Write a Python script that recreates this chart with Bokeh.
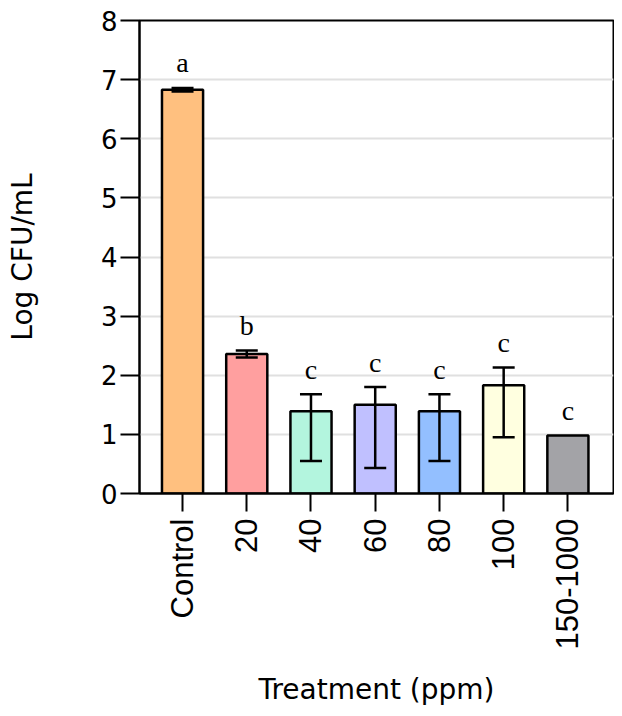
import math
from bokeh.plotting import figure
from bokeh.models import ColumnDataSource, Whisker, TeeHead, FixedTicker, Range1d
from bokeh.embed import file_html
from bokeh.resources import INLINE
from bokeh.core.properties import value

categories = ["Control", "20", "40", "60", "80", "100", "150-1000"]
means = [6.83, 2.36, 1.39, 1.50, 1.39, 1.83, 0.98]
err_upper = [6.86, 2.42, 1.68, 1.80, 1.68, 2.13, None]
err_lower = [6.80, 2.30, 0.55, 0.43, 0.55, 0.95, None]
letters = ["a", "b", "c", "c", "c", "c", "c"]
colors = ["#FFC07F", "#FF9F9F", "#B3F5DE", "#C0C0FF", "#93BFFF", "#FFFFE0", "#A3A3A7"]
y_ticks = [0, 1, 2, 3, 4, 5, 6, 7, 8]

xs = list(range(len(categories)))
src = ColumnDataSource(dict(x=xs, top=means, color=colors))

ex = [x for x, u in zip(xs, err_upper) if u is not None]
eu = [u for u in err_upper if u is not None]
el = [l for l in err_lower if l is not None]
esrc = ColumnDataSource(dict(x=ex, upper=eu, lower=el))

ly = [u if u is not None else m for u, m in zip(err_upper, means)]
lsrc = ColumnDataSource(dict(x=xs, y=ly, t=letters))

p = figure(width=614, height=708, output_backend="svg", toolbar_location=None,
           x_range=Range1d(-0.67, 6.71), y_range=Range1d(0, 8),
           min_border_left=139, min_border_top=20, min_border_right=1, min_border_bottom=213)

p.vbar(x="x", top="top", width=0.64, bottom=0, source=src, fill_color="color",
       line_color="black", line_width=2.5)

w = Whisker(base="x", upper="upper", lower="lower", source=esrc,
            line_color="black", line_width=2.5, level="overlay",
            upper_head=TeeHead(size=22, line_color="black", line_width=2.5),
            lower_head=TeeHead(size=22, line_color="black", line_width=2.5))
p.add_layout(w)

p.text(x="x", y="y", text="t", source=lsrc, text_align="center",
       text_baseline="alphabetic", y_offset=-25, text_font=value("Liberation Serif"),
       text_font_size="28px", text_color="black")

p.outline_line_color = "black"
p.outline_line_width = 2
p.background_fill_color = "white"
p.border_fill_color = "white"

p.xgrid.visible = False
p.ygrid.grid_line_color = "#E0E0E0"
p.ygrid.grid_line_width = 2
p.ygrid.ticker = FixedTicker(ticks=y_ticks)

p.yaxis.ticker = FixedTicker(ticks=y_ticks)
p.yaxis.axis_line_width = 2
p.yaxis.major_tick_line_width = 2
p.yaxis.major_tick_out = 19
p.yaxis.major_tick_in = 0
p.yaxis.minor_tick_line_color = None
p.yaxis.major_label_text_font = "DejaVu Sans"
p.yaxis.major_label_text_font_size = "26px"
p.yaxis.major_label_text_color = "black"
p.yaxis.major_label_standoff = 3
p.yaxis.axis_label = "Log CFU/mL"
p.yaxis.axis_label_text_font = "DejaVu Sans"
p.yaxis.axis_label_text_font_size = "28px"
p.yaxis.axis_label_text_font_style = "normal"
p.yaxis.axis_label_text_color = "black"
p.yaxis.axis_label_standoff = 59

p.xaxis.ticker = FixedTicker(ticks=xs)
p.xaxis.major_label_overrides = {i: c for i, c in zip(xs, categories)}
p.xaxis.axis_line_width = 2
p.xaxis.major_tick_line_width = 2
p.xaxis.major_tick_out = 18
p.xaxis.major_tick_in = 0
p.xaxis.minor_tick_line_color = None
p.xaxis.major_label_orientation = math.pi / 2
p.xaxis.major_label_text_font = "Liberation Sans"
p.xaxis.major_label_text_font_size = "31px"
p.xaxis.major_label_text_color = "black"
p.xaxis.major_label_standoff = 7
p.xaxis.axis_label = "Treatment (ppm)"
p.xaxis.axis_label_text_font = "DejaVu Sans"
p.xaxis.axis_label_text_font_size = "28px"
p.xaxis.axis_label_text_font_style = "normal"
p.xaxis.axis_label_text_color = "black"
p.xaxis.axis_label_standoff = 20

open("out.html", "w").write(file_html(p, INLINE))
